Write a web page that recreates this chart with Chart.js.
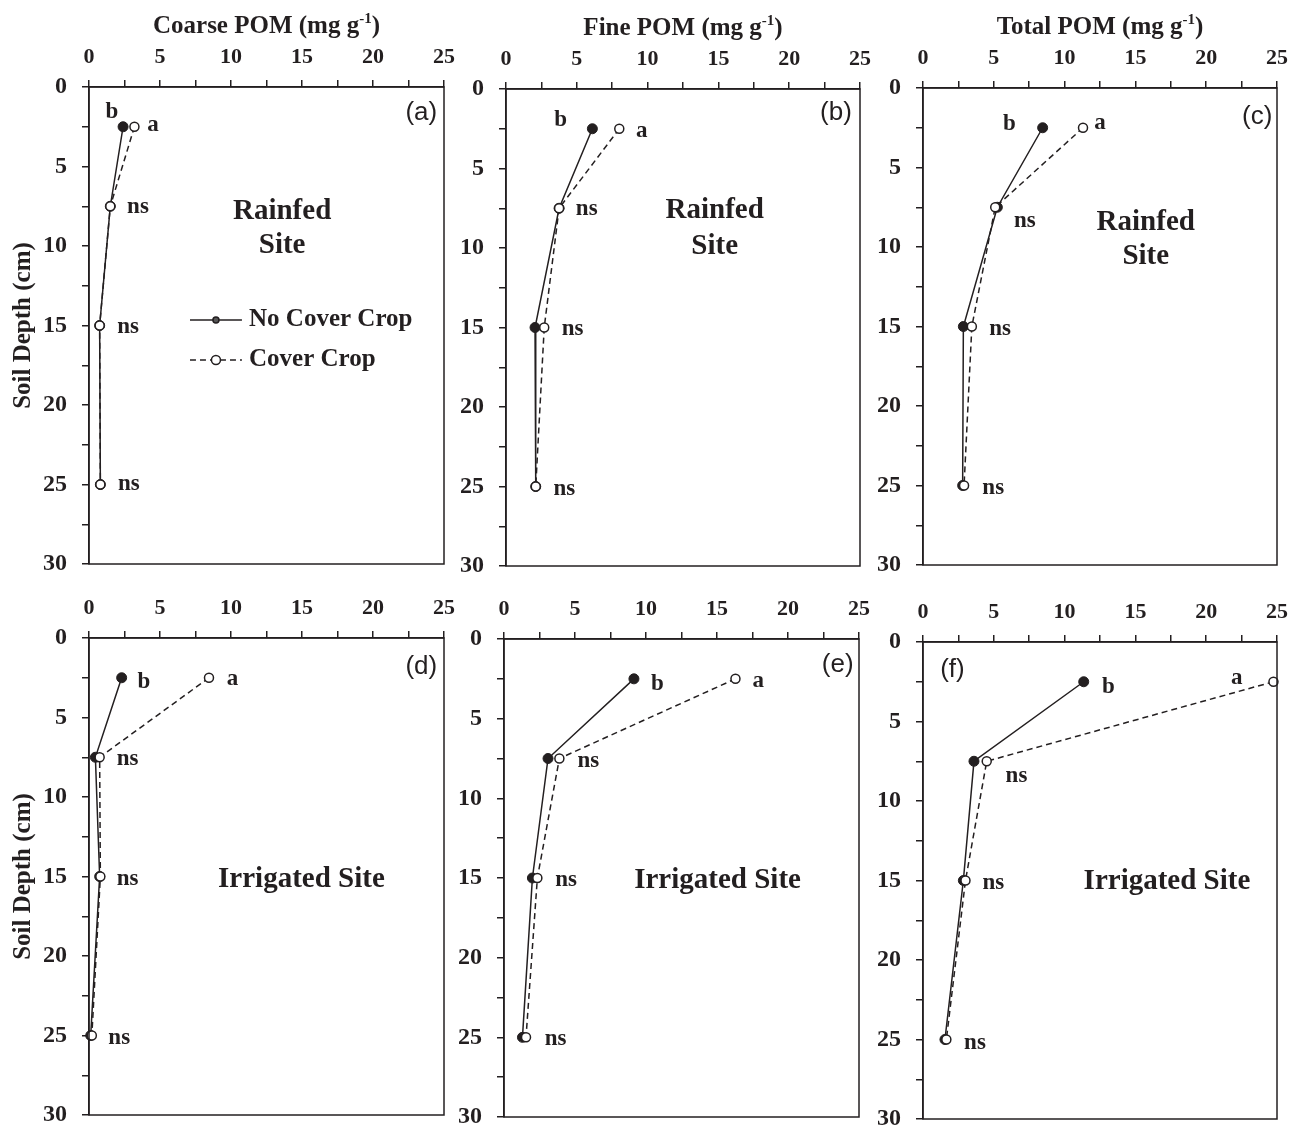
<!DOCTYPE html>
<html>
<head>
<meta charset="utf-8">
<script src="https://cdn.jsdelivr.net/npm/chart.js@4.4.1/dist/chart.umd.min.js"></script>
<style>
  html, body { margin: 0; padding: 0; background: #fff; overflow: hidden; width: 1292px; height: 1128px; }
</style>
</head>
<body>
<script>
// Sampling depths (cm)
const depths = [2.5, 7.5, 15, 25];

// POM values (mg g-1), one value per depth
const coarseRainNCC = [2.4, 1.5, 0.75, 0.8];
const coarseRainCC  = [3.2, 1.5, 0.75, 0.8];
const fineRainNCC   = [6.1, 3.75, 2.05, 2.1];
const fineRainCC    = [8.0, 3.75, 2.7, 2.1];
const totalRainNCC  = [8.45, 5.25, 2.85, 2.8];
const totalRainCC   = [11.3, 5.1, 3.45, 2.9];
const coarseIrrNCC  = [2.3, 0.45, 0.75, 0.12];
const coarseIrrCC   = [8.45, 0.75, 0.8, 0.2];
const fineIrrNCC    = [9.15, 3.1, 2.0, 1.3];
const fineIrrCC     = [16.3, 3.9, 2.35, 1.55];
const totalIrrNCC   = [11.35, 3.6, 2.85, 1.55];
const totalIrrCC    = [24.75, 4.5, 3.0, 1.65];

// Significance letters per depth (top depth gets a/b, the rest ns)
const sigNCC = ['b'];
const sigCC = ['a'];
const sigOther = ['ns', 'ns', 'ns'];

const xTickMax = 25;
const yTickMax = 30;

const ink = '#231f20';
const serif = '"Liberation Serif", "Times New Roman", serif';
const sans = '"Liberation Sans", Arial, sans-serif';

// draw text centred on its visible glyph box
function textAt(ctx, str, cx, cy, align) {
  const m = ctx.measureText(str);
  ctx.textAlign = align || 'center';
  ctx.textBaseline = 'alphabetic';
  ctx.fillText(str, cx, cy + (m.actualBoundingBoxAscent - m.actualBoundingBoxDescent) / 2);
}

const decor = {
  id: 'decor',
  afterDraw(chart, args, o) {
    const { ctx, chartArea: ca, scales: { x, y } } = chart;
    ctx.save();
    ctx.fillStyle = ink;
    ctx.strokeStyle = ink;

    // box round the plot
    ctx.lineWidth = 1.5;
    ctx.strokeRect(ca.left, ca.top, ca.right - ca.left, ca.bottom - ca.top);

    // axis title with superscript
    if (o.title) {
      const main = o.title + ' (mg g';
      ctx.textBaseline = 'alphabetic';
      ctx.textAlign = 'left';
      ctx.font = 'bold 25px ' + serif;
      const w1 = ctx.measureText(main).width;
      const w3 = ctx.measureText(')').width;
      ctx.font = 'bold 15px ' + serif;
      const w2 = ctx.measureText('-1').width;
      let tx = (ca.left + ca.right) / 2 - (w1 + w2 + w3) / 2;
      const by = ca.top - 54;
      ctx.font = 'bold 25px ' + serif;
      ctx.fillText(main, tx, by);
      tx += w1;
      ctx.font = 'bold 15px ' + serif;
      ctx.fillText('-1', tx, by - 10);
      tx += w2;
      ctx.font = 'bold 25px ' + serif;
      ctx.fillText(')', tx, by);
    }

    // panel letter
    ctx.font = '26px ' + sans;
    textAt(ctx, o.letter[0], x.getPixelForValue(o.letter[1]), y.getPixelForValue(o.letter[2]));

    // site label
    ctx.font = 'bold 29px ' + serif;
    o.site.forEach(s => textAt(ctx, s[0], x.getPixelForValue(s[1]), y.getPixelForValue(s[2])));

    // significance notes
    ctx.font = 'bold 23px ' + serif;
    o.notes.forEach(n => textAt(ctx, n[0], x.getPixelForValue(n[1]), y.getPixelForValue(n[2])));

    // legend (panel a only)
    if (o.legend) {
      const L = o.legend;
      const x0 = x.getPixelForValue(L.x0), x1 = x.getPixelForValue(L.x1);
      const xm = (x0 + x1) / 2, xt = x.getPixelForValue(L.xt);
      L.rows.forEach((r, i) => {
        const yy = y.getPixelForValue(r.d);
        ctx.lineWidth = 1.5;
        ctx.setLineDash(i === 0 ? [] : [6, 4]);
        ctx.beginPath(); ctx.moveTo(x0, yy); ctx.lineTo(x1, yy); ctx.stroke();
        ctx.setLineDash([]);
        ctx.beginPath();
        ctx.arc(xm, yy, i === 0 ? 3 : 4.5, 0, Math.PI * 2);
        ctx.fillStyle = i === 0 ? '#555' : '#fff';
        ctx.fill();
        ctx.lineWidth = 1.5;
        ctx.stroke();
        ctx.fillStyle = ink;
        ctx.font = 'bold 25px ' + serif;
        textAt(ctx, r.label, xt, yy, 'left');
      });
    }
    ctx.restore();
  }
};

function pts(vals) {
  return depths.map((d, i) => ({ x: vals[i], y: d }));
}

function notesFor(pos) {
  const labels = [sigNCC[0], sigCC[0]].concat(sigOther);
  return labels.map((t, i) => [t, pos[i][0], pos[i][1]]);
}

const panels = [
  { box: { left: 89, top: 87, w: 355, h: 477 }, ncc: coarseRainNCC, cc: coarseRainCC,
    title: 'Coarse POM', yTitle: true, letter: ['(a)', 23.4, 1.64],
    site: [['Rainfed', 13.6, 7.67], ['Site', 13.6, 9.81]],
    notes: notesFor([[1.62, 1.45], [4.5, 2.39], [3.45, 7.6], [2.75, 15.1], [2.8, 25.0]]),
    legend: { x0: 7.11, x1: 10.77, xt: 11.27,
      rows: [{ d: 14.65, label: 'No Cover Crop' }, { d: 17.17, label: 'Cover Crop' }] } },
  { box: { left: 506, top: 89, w: 354, h: 477 }, ncc: fineRainNCC, cc: fineRainCC,
    title: 'Fine POM', letter: ['(b)', 23.3, 1.5],
    site: [['Rainfed', 14.74, 7.48], ['Site', 14.74, 9.69]],
    notes: notesFor([[3.86, 1.82], [9.58, 2.68], [5.7, 7.6], [4.7, 15.15], [4.12, 25.2]]) },
  { box: { left: 923, top: 88, w: 354, h: 477 }, ncc: totalRainNCC, cc: totalRainCC,
    title: 'Total POM', letter: ['(c)', 23.6, 1.82],
    site: [['Rainfed', 15.73, 8.3], ['Site', 15.73, 10.44]],
    notes: notesFor([[6.1, 2.12], [12.5, 2.22], [7.2, 8.4], [5.44, 15.2], [4.96, 25.2]]) },
  { box: { left: 89, top: 638, w: 355, h: 477 }, ncc: coarseIrrNCC, cc: coarseIrrCC,
    yTitle: true, letter: ['(d)', 23.4, 1.8],
    site: [['Irrigated Site', 14.96, 15.22]],
    notes: notesFor([[3.87, 2.64], [10.1, 2.64], [2.72, 7.67], [2.72, 15.2], [2.13, 25.2]]) },
  { box: { left: 504, top: 639, w: 355, h: 478 }, ncc: fineIrrNCC, cc: fineIrrCC,
    letter: ['(e)', 23.5, 1.64],
    site: [['Irrigated Site', 15.04, 15.13]],
    notes: notesFor([[10.8, 2.68], [17.9, 2.68], [5.94, 7.7], [4.37, 15.13], [3.64, 25.13]]) },
  { box: { left: 923, top: 642, w: 354, h: 477 }, ncc: totalIrrNCC, cc: totalIrrCC,
    letter: ['(f)', 2.08, 1.76],
    site: [['Irrigated Site', 17.23, 15.09]],
    notes: notesFor([[13.1, 2.7], [22.15, 2.28], [6.6, 8.47], [4.97, 15.2], [3.67, 25.24]]) }
];

// room for overhanging tick labels (label half-size + tick padding)
const padR = 26;
const padB = 34;

panels.forEach(p => {
  const b = p.box;
  const yw = b.left < 200 ? 89 : 45;
  const xh = b.top < 300 ? b.top : 50;
  const canvas = document.createElement('canvas');
  canvas.width = yw + b.w + padR;
  canvas.height = xh + b.h + padB;
  canvas.style.position = 'absolute';
  canvas.style.left = (b.left - yw) + 'px';
  canvas.style.top = (b.top - xh) + 'px';
  document.body.appendChild(canvas);

  new Chart(canvas, {
    type: 'scatter',
    data: {
      datasets: [
        {
          label: 'Cover Crop',
          data: pts(p.cc),
          showLine: true,
          borderColor: ink,
          borderWidth: 1.5,
          borderDash: [6, 4],
          pointRadius: 4.5,
          pointBackgroundColor: '#fff',
          pointBorderColor: ink,
          pointBorderWidth: 1.5,
          clip: false
        },
        {
          label: 'No Cover Crop',
          data: pts(p.ncc),
          showLine: true,
          borderColor: ink,
          borderWidth: 1.5,
          pointRadius: 5,
          pointBackgroundColor: ink,
          pointBorderColor: ink,
          pointBorderWidth: 1,
          clip: false
        }
      ]
    },
    options: {
      responsive: false,
      animation: false,
      layout: { padding: { right: padR, bottom: padB } },
      plugins: {
        legend: { display: false },
        tooltip: { enabled: false },
        decor: {
          title: p.title,
          letter: p.letter,
          site: p.site,
          notes: p.notes,
          legend: p.legend
        }
      },
      scales: {
        x: {
          type: 'linear',
          position: 'top',
          min: 0,
          max: xTickMax,
          afterFit: s => { s.height = xh; },
          ticks: {
            stepSize: 2.5,
            autoSkip: false,
            maxRotation: 0,
            padding: 9,
            color: ink,
            font: { family: serif, size: 22, weight: 'bold' },
            callback: v => (v % 5 === 0 ? v : '')
          },
          grid: { drawOnChartArea: false, tickLength: 7, color: ink, lineWidth: 1.5 },
          border: { color: ink, width: 1.5 }
        },
        y: {
          type: 'linear',
          reverse: true,
          min: 0,
          max: yTickMax,
          afterFit: s => { s.width = yw; },
          title: {
            display: !!p.yTitle,
            text: 'Soil Depth (cm)',
            color: ink,
            padding: { top: 9, bottom: 0 },
            font: { family: serif, size: 25, weight: 'bold' }
          },
          ticks: {
            stepSize: 2.5,
            autoSkip: false,
            padding: 15,
            color: ink,
            font: { family: serif, size: 24, weight: 'bold' },
            callback: v => (v % 5 === 0 ? v : '')
          },
          grid: { drawOnChartArea: false, tickLength: 7, color: ink, lineWidth: 1.5 },
          border: { color: ink, width: 1.5 }
        }
      }
    },
    plugins: [decor]
  });
});
</script>
</body>
</html>
